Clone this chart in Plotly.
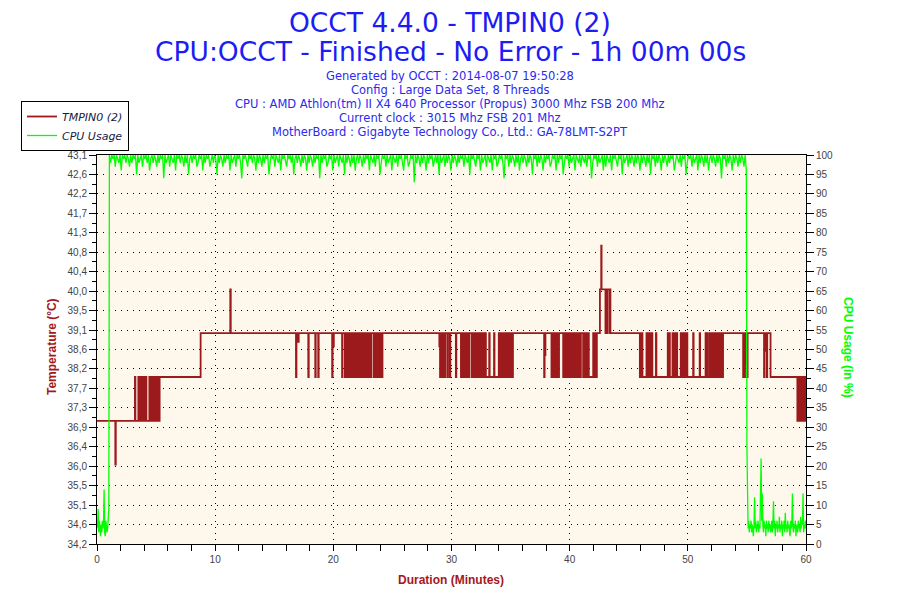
import plotly.graph_objects as go

# ---------------- data ----------------
TITLE_LINES = ["OCCT 4.4.0 - TMPIN0 (2)",
               "CPU:OCCT - Finished - No Error - 1h 00m 00s"]
INFO_LINES = [
    "Generated by OCCT : 2014-08-07 19:50:28",
    "Config : Large Data Set, 8 Threads",
    "CPU : AMD Athlon(tm) II X4 640 Processor (Propus) 3000 Mhz FSB 200 Mhz",
    "Current clock : 3015 Mhz FSB 201 Mhz",
    "MotherBoard : Gigabyte Technology Co., Ltd.: GA-78LMT-S2PT",
]
SERIES_NAMES = ["TMPIN0 (2)", "CPU Usage"]
AXIS_TITLES = ["Duration (Minutes)", "Temperature (°C)", "CPU Usage (in %)"]

TEMP_TICK_LABELS = ["34,2", "34,6", "35,1", "35,5", "36,0", "36,4", "36,9",
                    "37,3", "37,7", "38,2", "38,6", "39,1", "39,5", "40,0",
                    "40,4", "40,8", "41,3", "41,7", "42,2", "42,6", "43,1"]
TEMP_RANGE = [34.188, 43.068]
CPU_RANGE = [0, 100]
DURATION_RANGE = [0, 60]

# Temperature (°C): (minute where the value starts, value)
TEMP_STEPS = [
    (0.00, 37), (1.55, 36), (1.59, 37), (3.21, 38), (3.25, 37),
    (3.50, 38), (3.58, 37), (3.62, 38), (3.70, 37), (3.74, 38), (3.82, 37),
    (3.86, 38), (3.94, 37), (3.98, 38), (4.06, 37), (4.10, 38), (4.18, 37),
    (4.43, 38), (4.47, 37),
    (4.62, 38), (4.68, 37), (4.72, 38), (4.80, 37), (4.84, 38), (4.92, 37),
    (4.96, 38), (5.04, 37), (5.08, 38), (5.16, 37), (5.20, 38), (5.27, 37),
    (5.30, 38),
    (8.77, 39), (11.28, 40), (11.32, 39),
    (16.84, 38), (16.88, 39), (17.03, 38.8), (17.07, 39), (17.88, 38), (17.92, 39),
    (18.47, 38), (18.51, 39), (18.72, 38), (18.76, 39), (19.90, 38), (19.94, 39),
    (20.00, 38.7), (20.04, 39), (20.74, 38), (20.78, 39),
    (20.98, 38), (21.04, 39), (21.08, 38), (21.16, 39), (21.20, 38), (21.28, 39),
    (21.32, 38), (21.40, 39), (21.44, 38), (21.52, 39), (21.56, 38), (21.64, 39),
    (21.68, 38), (21.76, 39), (21.80, 38), (21.88, 39), (21.92, 38), (22.00, 39),
    (22.04, 38), (22.10, 39),
    (22.25, 38), (22.29, 39),
    (22.40, 38), (22.48, 39), (22.52, 38), (22.60, 39), (22.64, 38), (22.72, 39),
    (22.76, 38), (22.80, 39),
    (22.90, 38), (22.98, 39), (23.02, 38), (23.10, 39), (23.14, 38), (23.20, 39),
    (23.40, 38), (23.48, 39), (23.52, 38), (23.60, 39), (23.64, 38), (23.75, 39),
    (23.80, 38), (23.88, 39), (23.92, 38), (24.00, 39), (24.04, 38), (24.10, 39),
    (24.12, 38), (24.16, 39),
    (28.97, 38.7), (29.03, 38), (29.08, 39), (29.12, 38), (29.20, 39), (29.24, 38),
    (29.30, 39),
    (29.44, 38), (29.48, 39), (29.66, 38), (29.70, 39), (29.86, 38), (29.90, 39),
    (30.37, 38), (30.41, 39), (30.80, 38), (30.84, 39),
    (30.93, 38), (31.00, 39), (31.04, 38), (31.12, 39), (31.16, 38), (31.24, 39),
    (31.28, 38), (31.36, 39), (31.40, 38), (31.50, 39),
    (31.70, 38), (31.78, 39), (31.82, 38), (31.90, 39), (31.94, 38), (32.02, 39),
    (32.06, 38), (32.14, 39), (32.18, 38), (32.26, 39), (32.30, 38), (32.40, 39),
    (32.55, 38), (32.63, 39), (32.67, 38), (32.75, 39), (32.79, 38), (32.87, 39),
    (32.91, 38), (33.19, 39), (33.23, 38), (33.60, 39), (33.64, 38),
    (34.00, 39), (34.06, 38), (34.10, 39), (34.18, 38), (34.22, 39), (34.30, 38),
    (34.34, 39), (34.42, 38), (34.46, 39), (34.54, 38), (34.58, 39), (34.66, 38),
    (34.70, 39), (34.78, 38), (34.82, 39), (34.90, 38), (34.94, 39), (35.02, 38),
    (35.06, 39), (35.14, 38), (35.20, 39),
    (37.84, 38), (37.88, 39), (37.92, 38.5), (37.95, 39),
    (38.46, 38), (38.52, 39), (38.56, 38), (38.64, 39), (38.68, 38), (38.76, 39),
    (38.80, 38), (38.88, 39), (38.92, 38), (39.00, 39), (39.04, 38), (39.10, 39),
    (39.45, 38), (39.52, 39), (39.56, 38), (39.64, 39), (39.68, 38), (39.74, 39),
    (39.87, 38), (39.94, 39), (39.98, 38), (40.06, 39), (40.10, 38), (40.18, 39),
    (40.22, 38), (40.30, 39), (40.34, 38), (40.42, 39), (40.46, 38), (40.54, 39),
    (40.58, 38), (40.66, 39), (40.70, 38), (40.78, 39), (40.82, 38), (40.90, 39),
    (40.92, 38), (40.95, 39),
    (41.14, 38), (41.18, 39),
    (41.28, 38), (41.34, 39), (41.38, 38), (41.46, 39), (41.50, 38), (41.58, 39),
    (41.62, 38),
    (41.99, 39), (42.03, 38), (42.10, 39), (42.14, 38), (42.22, 39), (42.26, 38),
    (42.30, 39),
    (42.56, 40), (42.67, 41), (42.70, 40),
    (43.03, 39), (43.07, 40), (43.12, 39), (43.17, 40), (43.35, 39), (43.38, 40),
    (43.45, 39),
    (45.94, 38), (46.00, 39), (46.04, 38), (46.10, 39), (46.16, 38),
    (46.50, 39), (46.54, 38), (46.62, 39), (46.66, 38), (46.74, 39), (46.78, 38),
    (46.86, 39), (46.90, 38), (46.97, 39), (47.00, 38),
    (47.30, 39), (47.34, 38), (48.30, 39), (48.34, 38), (48.44, 39), (48.48, 38),
    (48.70, 39), (48.76, 38), (48.80, 39), (48.88, 38), (48.92, 39), (49.00, 38),
    (49.04, 39), (49.10, 38),
    (49.40, 39), (49.46, 38), (49.50, 39), (49.58, 38), (49.62, 39), (49.70, 38),
    (49.74, 39), (49.82, 38), (49.86, 39), (49.96, 38),
    (50.45, 39), (50.49, 38), (51.00, 39), (51.04, 38),
    (51.50, 39), (51.54, 38), (51.66, 39), (51.70, 38),
    (51.86, 39), (51.92, 38), (51.96, 39), (52.04, 38), (52.08, 39), (52.16, 38),
    (52.20, 39), (52.28, 38), (52.32, 39), (52.40, 38), (52.44, 39), (52.52, 38),
    (52.56, 39), (52.64, 38), (52.68, 39), (52.76, 38), (52.80, 39), (52.85, 38),
    (52.98, 39),
    (54.68, 38), (54.72, 39), (54.80, 38), (54.84, 39), (54.92, 38.3), (54.96, 39),
    (55.02, 38), (55.06, 39),
    (56.45, 38), (56.49, 39), (56.58, 38.6), (56.62, 39), (56.68, 38), (56.72, 39),
    (57.00, 38),
    (59.27, 37), (59.33, 38), (59.37, 37), (59.45, 38), (59.49, 37), (59.57, 38),
    (59.61, 37), (59.69, 38), (59.73, 37), (59.81, 38), (59.85, 37), (59.93, 38),
    (59.96, 37), (60.00, 37),
]

# CPU usage (%) - three sampled stretches
CPU_START_T0, CPU_START_STEP = 0.0, 0.05
CPU_START = [4, 5, 9, 3, 6, 4, 2, 5, 3, 6, 4, 5, 14, 3, 2, 6, 5, 3, 4, 9, 9]

CPU_RUN_T0, CPU_RUN_STEP = 1.05, 0.1
CPU_RUN = [
    100, 98, 100, 99, 100, 97, 100, 99, 98, 100, 96, 100, 99, 100, 98, 100, 99, 97, 100, 98,
    100, 99, 100, 95, 100, 98, 99, 100, 97, 100, 99, 100, 98, 100, 96, 99, 100, 98, 100, 99,
    97, 100, 98, 100, 99, 100, 94, 100, 98, 99, 100, 97, 100, 99, 98, 100, 96, 100, 99, 100,
    98, 100, 99, 97, 100, 98, 100, 95, 99, 100, 98, 100, 99, 100, 97, 98, 100, 99, 100, 96,
    100, 98, 100, 99, 100, 97, 99, 100, 98, 100, 99, 95, 100, 98, 100, 99, 97, 100, 98, 100,
    99, 100, 96, 100, 98, 99, 100, 97, 100, 99, 100, 98, 94, 100, 99, 100, 98, 97, 100, 99,
    100, 98, 100, 99, 96, 100, 98, 100, 99, 97, 100, 98, 100, 99, 100, 95, 98, 100, 99, 100,
    97, 100, 99, 98, 100, 96, 100, 99, 100, 98, 97, 100, 99, 100, 98, 100, 95, 99, 100, 98,
    100, 99, 97, 100, 98, 100, 99, 96, 100, 98, 100, 99, 97, 100, 98, 100, 99, 100, 94, 100,
    98, 100, 99, 100, 97, 98, 100, 99, 100, 96, 100, 98, 99, 100, 97, 100, 99, 98, 100, 95,
    100, 98, 100, 99, 97, 100, 98, 100, 96, 99, 100, 98, 100, 99, 97, 100, 98, 100, 99, 100,
    96, 100, 99, 98, 100, 97, 100, 99, 100, 95, 98, 100, 99, 100, 97, 100, 98, 99, 100, 96,
    100, 99, 98, 100, 97, 100, 99, 100, 98, 96, 100, 99, 100, 97, 98, 100, 99, 100, 93, 100,
    98, 100, 99, 97, 100, 98, 100, 99, 96, 100, 98, 100, 99, 100, 97, 99, 100, 98, 100, 95,
    100, 98, 99, 100, 97, 100, 98, 100, 99, 96, 100, 98, 100, 99, 97, 100, 98, 100, 99, 100,
    97, 100, 99, 98, 100, 95, 100, 99, 100, 98, 97, 100, 99, 100, 96, 100, 98, 99, 100, 97,
    100, 99, 98, 100, 96, 100, 99, 100, 97, 98, 100, 99, 100, 98, 94, 100, 99, 100, 97, 100,
    98, 100, 99, 97, 100, 98, 100, 96, 99, 100, 98, 100, 99, 97, 100, 98, 100, 99, 95, 100,
    99, 100, 97, 100, 98, 100, 99, 96, 100, 98, 100, 99, 100, 97, 98, 100, 99, 100, 96, 100,
    98, 100, 99, 100, 95, 98, 100, 99, 100, 97, 100, 98, 99, 100, 96, 100, 99, 98, 100, 97,
    100, 99, 98, 100, 97, 100, 99, 100, 94, 98, 100, 99, 100, 97, 100, 98, 99, 100, 96, 100,
    97, 100, 99, 98, 100, 96, 100, 99, 100, 98, 97, 100, 99, 100, 95, 100, 98, 99, 100, 97,
    100, 98, 100, 99, 97, 100, 98, 100, 99, 96, 100, 98, 100, 99, 97, 100, 98, 100, 95, 100,
    99, 100, 97, 100, 98, 100, 99, 96, 100, 98, 100, 99, 97, 100, 98, 100, 99, 100, 96, 98,
    100, 99, 98, 100, 97, 100, 99, 100, 95, 98, 100, 99, 100, 97, 100, 98, 99, 100, 96, 100,
    98, 100, 99, 97, 100, 98, 100, 96, 99, 100, 98, 100, 99, 97, 100, 98, 100, 99, 94, 100,
    99, 100, 97, 100, 98, 100, 99, 96, 100, 98, 100, 99, 97, 100, 98, 100, 99, 97, 100, 96,
]

CPU_END_T0, CPU_END_STEP = 55.0, 0.05
CPU_END = [
    25, 8, 4, 6, 3, 5, 4, 6, 3,
    5, 4, 2, 5, 12, 4, 6, 3, 5, 4,
    6, 3, 5, 4, 14, 22, 6, 13, 5, 3,
    6, 4, 5, 2, 6, 4, 5, 3, 6, 4,
    5, 3, 4, 6, 3, 5, 11, 4, 6, 2,
    5, 4, 6, 3, 5, 4, 7, 3, 5, 4,
    6, 2, 5, 4, 6, 3, 8, 4, 5, 3,
    6, 4, 5, 3, 2, 6, 4, 5, 13, 4,
    3, 5, 4, 6, 2, 5, 4, 3, 6, 4,
    5, 3, 7, 4, 6, 5, 13, 3, 5, 4,
    6, 4,
]

# ---------------- styling ----------------
TEMP_COLOR = "#9C1A1C"
CPU_COLOR = "#00FF00"
TITLE_BLUE = "#1C1CF5"
INFO_BLUE = "#2A2AF0"
AXIS_RED = "#A3181C"
PLOT_BG = "#FDF8EB"
TICK_FONT = dict(family="Liberation Sans", size=10, color="#444444")

W, H = 900, 600
PAGE_OFFSET = 8  # the page body margin shifts the figure by this many pixels
# plot box in on-screen pixels
PLOT_L, PLOT_R, PLOT_T, PLOT_B = 97, 806, 155, 544


def px_x(x):
    return (x - PLOT_L) / (PLOT_R - PLOT_L)


def px_y(y):
    return (PLOT_B - y) / (PLOT_B - PLOT_T)


temp_x = [t for t, _ in TEMP_STEPS]
temp_y = [v for _, v in TEMP_STEPS]

cpu_x, cpu_y = [], []
for t0, step, vals in ((CPU_START_T0, CPU_START_STEP, CPU_START),
                       (CPU_RUN_T0, CPU_RUN_STEP, CPU_RUN),
                       (CPU_END_T0, CPU_END_STEP, CPU_END)):
    for i, v in enumerate(vals):
        cpu_x.append(round(t0 + i * step, 4))
        cpu_y.append(v)

n_ticks = len(TEMP_TICK_LABELS)
temp_span = TEMP_RANGE[1] - TEMP_RANGE[0]
temp_tickvals = [TEMP_RANGE[0] + i * temp_span / (n_ticks - 1) for i in range(n_ticks)]

fig = go.Figure()
fig.add_trace(go.Scatter(
    x=temp_x, y=temp_y, mode="lines", line=dict(color=TEMP_COLOR, width=1.8, shape="hv"),
    name="<i>" + SERIES_NAMES[0] + "</i>", yaxis="y"))
fig.add_trace(go.Scatter(
    x=cpu_x, y=cpu_y, mode="lines", line=dict(color=CPU_COLOR, width=1.3),
    name="<i>" + SERIES_NAMES[1] + "</i>", yaxis="y2"))


def note(text, x, y, font, angle=0):
    return dict(text=text, x=px_x(x), y=px_y(y), xref="paper", yref="paper",
                xanchor="center", yanchor="middle", showarrow=False,
                textangle=angle, font=font)


annotations = [
    note(TITLE_LINES[0], 450, 22, dict(family="DejaVu Sans", size=26.5, color=TITLE_BLUE)),
    note(TITLE_LINES[1], 450, 51, dict(family="DejaVu Sans", size=26.5, color=TITLE_BLUE)),
]
for i, line in enumerate(INFO_LINES):
    annotations.append(note(line, 450, 76 + 14 * i,
                            dict(family="DejaVu Sans", size=11.5, color=INFO_BLUE)))
annotations.append(note("<b>" + AXIS_TITLES[0] + "</b>", 451, 580,
                        dict(family="Liberation Sans", size=12, color=AXIS_RED)))
annotations.append(note("<b>" + AXIS_TITLES[1] + "</b>", 52, 347,
                        dict(family="Liberation Sans", size=12, color=AXIS_RED), -90))
annotations.append(note("<b>" + AXIS_TITLES[2] + "</b>", 848, 348,
                        dict(family="Liberation Sans", size=12, color=CPU_COLOR), 90))

fig.update_layout(
    width=W, height=H,
    margin=dict(l=PLOT_L - PAGE_OFFSET, r=W - PLOT_R + PAGE_OFFSET,
                t=PLOT_T - PAGE_OFFSET, b=H - PLOT_B + PAGE_OFFSET, pad=0),
    paper_bgcolor="white", plot_bgcolor=PLOT_BG,
    showlegend=True,
    legend=dict(xref="paper", yref="paper", x=px_x(21), y=px_y(101),
                xanchor="left", yanchor="top", bgcolor="white",
                bordercolor="black", borderwidth=1,
                font=dict(family="DejaVu Sans", size=11, color="#1a1a40"),
                tracegroupgap=0, itemwidth=30),
    xaxis=dict(range=DURATION_RANGE, tickmode="linear", tick0=0, dtick=10,
               ticks="outside", ticklen=6, tickcolor="black",
               minor=dict(dtick=2, tick0=0, ticks="outside", ticklen=6, tickcolor="black",
                          showgrid=False),
               showline=True, linecolor="black", linewidth=1, mirror=True,
               showgrid=True, gridcolor="black", griddash="1px,5px", gridwidth=1,
               zeroline=False, tickfont=TICK_FONT, automargin=False),
    yaxis=dict(range=TEMP_RANGE, tickmode="array", tickvals=temp_tickvals,
               ticktext=TEMP_TICK_LABELS, ticks="outside", ticklen=7, tickcolor="black",
               minor=dict(tickmode="linear", tick0=TEMP_RANGE[0],
                          dtick=temp_span / (n_ticks - 1) / 2, ticks="outside",
                          ticklen=4, tickcolor="black", showgrid=False),
               showline=True, linecolor="black", linewidth=1,
               showgrid=True, gridcolor="black", griddash="1px,5px", gridwidth=1,
               zeroline=False, tickfont=TICK_FONT, automargin=False),
    yaxis2=dict(range=CPU_RANGE, overlaying="y", side="right", tickmode="linear",
                tick0=0, dtick=5, ticks="outside", ticklen=7, tickcolor="black",
                minor=dict(dtick=2.5, tick0=0, ticks="outside", ticklen=4,
                           tickcolor="black", showgrid=False),
                showline=True, linecolor="black", linewidth=1, showgrid=False,
                zeroline=False, tickfont=TICK_FONT, automargin=False),
    annotations=annotations,
)

fig.write_html("out.html")
